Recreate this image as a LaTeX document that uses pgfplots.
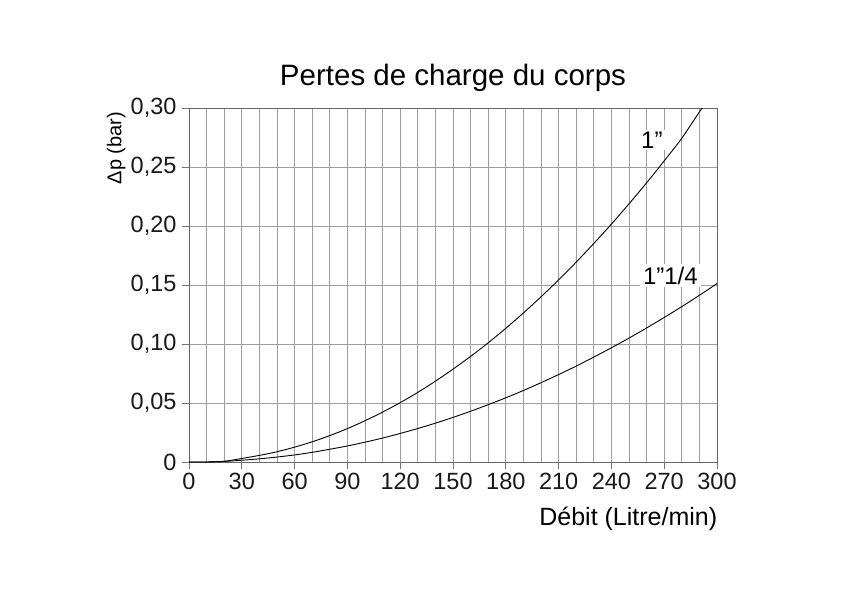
\documentclass[border=0pt]{standalone}
\usepackage{fontspec}
\setmainfont{Liberation Sans}
\usepackage{pgfplots}
\pgfplotsset{compat=1.18}
\begin{document}
\begin{tikzpicture}
\useasboundingbox (-189pt,-133pt) rectangle (653pt,462pt);
\begin{axis}[
  at={(0pt,0pt)}, anchor=south west,
  scale only axis, width=528pt, height=354pt,
  xmin=0, xmax=300, ymin=0, ymax=0.3,
  xtick={0,30,...,300},
  minor xtick={0,10,...,300},
  ytick={0,0.05,0.10,0.15,0.20,0.25,0.30},
  yticklabels={0,{0,05},{0,10},{0,15},{0,20},{0,25},{0,30}},
  /pgf/number format/assume math mode=true,
  tick pos=left, tick align=outside,
  major tick length=7pt, minor tick length=0pt,
  tick style={color=black!55, line width=0.8pt},
  grid=both,
  major grid style={color=black!38, line width=0.8pt},
  minor grid style={color=black!38, line width=0.8pt},
  axis line style={color=black!60, line width=1pt},
  xticklabel style={font=\fontsize{23.5}{25}\selectfont, text=black!90, yshift=-1pt},
  yticklabel style={font=\fontsize{23.5}{25}\selectfont, text=black!90, xshift=-2pt},
  title={Pertes de charge du corps},
  title style={font=\fontsize{29.5}{31}\selectfont, at={(axis description cs:0.5,1.068)}, anchor=center},
  xlabel={Débit (Litre/min)},
  xlabel style={font=\fontsize{25}{27}\selectfont, at={(axis description cs:0.832,-0.161)}, anchor=center},
  ylabel={Δp (bar)},
  ylabel style={font=\fontsize{20}{22}\selectfont, at={(axis description cs:-0.138,0.887)}, anchor=center},
  clip=true,
]
\addplot[black, line width=0.9pt, smooth] coordinates {
(0,0) (10,0) (20,0.0006) (25,0.0017) (30,0.003) (40,0.0056) (50,0.0087)
(60,0.0126) (70,0.0171) (80,0.0224) (90,0.0283) (100,0.035) (110,0.0423)
(120,0.0503) (130,0.059) (140,0.0685) (150,0.0787) (160,0.0895) (170,0.101)
(180,0.1133) (190,0.1263) (200,0.14) (210,0.1543) (220,0.1694) (230,0.1852)
(240,0.2016) (250,0.2188) (260,0.2366) (270,0.2552) (280,0.2744) (290,0.2967) (292,0.3005)
};
\addplot[black, line width=0.9pt, smooth] coordinates {
(0,0) (10,0) (20,0.0005) (30,0.0015) (40,0.0027) (50,0.0042) (60,0.006)
(70,0.0082) (80,0.0108) (90,0.0136) (100,0.0168) (110,0.0203) (120,0.0242)
(130,0.0284) (140,0.0329) (150,0.0378) (160,0.043) (170,0.0486) (180,0.0544)
(190,0.0606) (200,0.0672) (210,0.0741) (220,0.0813) (230,0.0889) (240,0.0968)
(250,0.105) (260,0.1136) (270,0.1225) (280,0.1317) (290,0.1413) (300,0.1512)
};
\node[fill=white, inner sep=2pt, font=\fontsize{24}{26}\selectfont] at (axis cs:263,0.273) {1”};
\node[fill=white, inner sep=3pt, font=\fontsize{24}{26}\selectfont] at (axis cs:273.5,0.158) {1”1/4};
\end{axis}
\end{tikzpicture}
\end{document}
